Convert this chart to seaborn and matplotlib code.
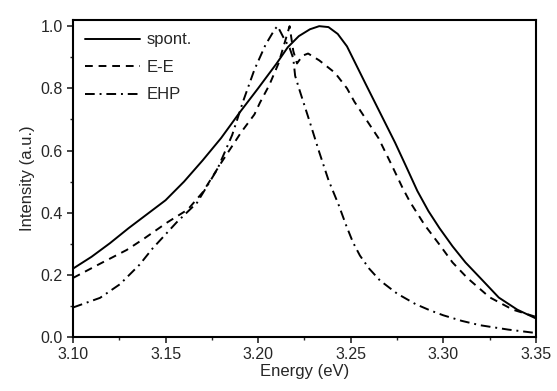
import numpy as np
import pandas as pd
import matplotlib
matplotlib.use('Agg')
import matplotlib.pyplot as plt
import seaborn as sns
from matplotlib.ticker import MultipleLocator

# spontaneous emission (solid)
spont_energy = [3.100, 3.110, 3.120, 3.130, 3.140, 3.150, 3.160, 3.170, 3.180,
                3.190, 3.200, 3.210, 3.216, 3.222, 3.228, 3.233, 3.238, 3.243,
                3.248, 3.253, 3.258, 3.266, 3.274, 3.280, 3.286, 3.292, 3.298,
                3.305, 3.312, 3.320, 3.330, 3.340, 3.350]
spont_int = [0.220, 0.258, 0.302, 0.350, 0.395, 0.440, 0.500, 0.568, 0.640,
             0.722, 0.800, 0.880, 0.932, 0.968, 0.990, 1.000, 0.997, 0.975,
             0.935, 0.875, 0.815, 0.720, 0.625, 0.548, 0.470, 0.405, 0.350,
             0.292, 0.240, 0.190, 0.127, 0.088, 0.060]

# exciton-exciton scattering (dashed)
ee_energy = [3.100, 3.115, 3.129, 3.138, 3.151, 3.162, 3.170, 3.180, 3.191,
             3.198, 3.201, 3.206, 3.211, 3.215, 3.217, 3.219, 3.221, 3.224,
             3.227, 3.233, 3.2415, 3.248, 3.252, 3.259, 3.265, 3.272, 3.278,
             3.282, 3.290, 3.298, 3.305, 3.313, 3.325, 3.3376, 3.350]
ee_int = [0.190, 0.237, 0.280, 0.315, 0.369, 0.410, 0.465, 0.560, 0.660,
          0.716, 0.754, 0.810, 0.880, 0.960, 1.000, 0.920, 0.880, 0.905,
          0.912, 0.890, 0.850, 0.800, 0.757, 0.694, 0.640, 0.555, 0.480,
          0.435, 0.360, 0.297, 0.240, 0.190, 0.128, 0.088, 0.065]

# electron-hole plasma (dash-dot)
ehp_energy = [3.100, 3.1146, 3.1254, 3.136, 3.143, 3.156, 3.167, 3.178, 3.186,
              3.192, 3.198, 3.204, 3.209, 3.2105, 3.214, 3.217, 3.219, 3.220,
              3.2226, 3.228, 3.233, 3.238, 3.2435, 3.2475, 3.2512, 3.255,
              3.260, 3.2658, 3.275, 3.285, 3.2928, 3.300, 3.310, 3.3199,
              3.335, 3.350]
ehp_int = [0.095, 0.126, 0.170, 0.233, 0.285, 0.369, 0.432, 0.540, 0.650,
           0.760, 0.860, 0.940, 0.990, 1.000, 0.960, 0.930, 0.896, 0.840,
           0.790, 0.690, 0.595, 0.505, 0.425, 0.360, 0.305, 0.262,
           0.220, 0.182, 0.140, 0.106, 0.086, 0.070, 0.052, 0.038,
           0.024, 0.013]

series_names = ['spont.', 'E-E', 'EHP']

df = pd.concat([
    pd.DataFrame({'energy': spont_energy, 'intensity': spont_int, 'series': 'spont.'}),
    pd.DataFrame({'energy': ee_energy, 'intensity': ee_int, 'series': 'E-E'}),
    pd.DataFrame({'energy': ehp_energy, 'intensity': ehp_int, 'series': 'EHP'}),
], ignore_index=True)

sns.set_style('ticks')
plt.rcParams['font.family'] = ['Liberation Sans', 'DejaVu Sans']

fig = plt.figure(figsize=(5.57, 3.91), dpi=100)
ax = fig.add_subplot(111)
fig.subplots_adjust(left=0.131, right=0.962, bottom=0.138, top=0.949)

sns.lineplot(data=df, x='energy', y='intensity', style='series',
             style_order=series_names,
             dashes={'spont.': '', 'E-E': (4, 3), 'EHP': (5, 2.5, 1, 2.5)},
             color='black', linewidth=1.4, sort=False, estimator=None, ax=ax)

ax.set_xlim(3.10, 3.35)
ax.set_ylim(0.0, 1.02)
ax.xaxis.set_major_locator(MultipleLocator(0.05))
ax.xaxis.set_minor_locator(MultipleLocator(0.025))
ax.yaxis.set_major_locator(MultipleLocator(0.2))
ax.yaxis.set_minor_locator(MultipleLocator(0.1))
ax.xaxis.set_major_formatter(matplotlib.ticker.FormatStrFormatter('%.2f'))
ax.yaxis.set_major_formatter(matplotlib.ticker.FormatStrFormatter('%.1f'))
ax.tick_params(which='major', direction='out', length=4, width=1.2,
               labelsize=11.5, top=False, right=False)
ax.tick_params(which='minor', direction='out', length=2, width=1.0,
               top=False, right=False)
for s in ax.spines.values():
    s.set_visible(True)
    s.set_linewidth(1.5)
    s.set_color('black')

ax.set_xlabel('Energy (eV)', fontsize=12, labelpad=1)
ax.set_ylabel('Intensity (a.u.)', fontsize=12, labelpad=4)

handles, labels = ax.get_legend_handles_labels()
ax.legend(handles, labels, loc='upper left', frameon=False, fontsize=12,
          handlelength=3.3, handletextpad=0.35, labelspacing=0.75,
          borderaxespad=0.35)

fig.savefig('out.png', dpi=100)
